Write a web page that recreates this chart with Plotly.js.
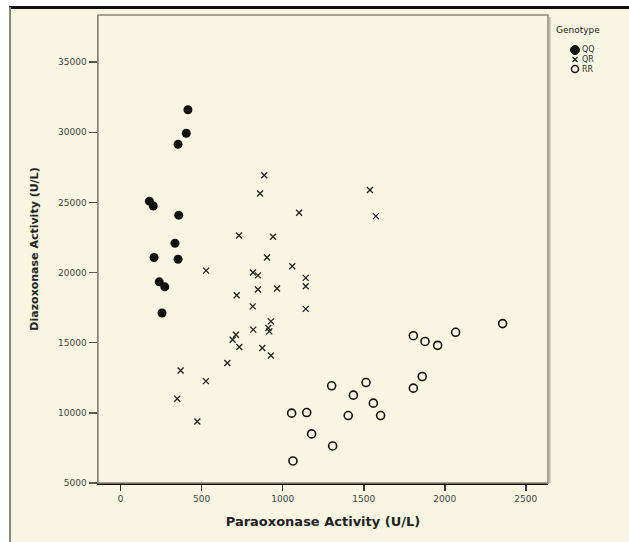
<!DOCTYPE html>
<html>
<head>
<meta charset="utf-8">
<script src="https://cdn.plot.ly/plotly-3.0.1.min.js"></script>
<style>html,body{margin:0;padding:0;background:#fff;}#chart{width:629px;height:542px;}</style>
</head>
<body>
<div id="chart"></div>
<script>
// Genotype QQ (filled circles)
const qqX = [415, 405, 354, 177, 201, 358, 335, 206, 354, 238, 272, 255];
const qqY = [31600, 29930, 29140, 25090, 24740, 24090, 22090, 21070, 20950, 19340, 18980, 17120];
// Genotype QR (crosses)
const qrX = [886, 860, 1101, 730, 940, 903, 1059, 527, 816, 847, 1142, 1142, 847, 965, 716, 815, 1142,
             927, 911, 917, 818, 711, 691, 732, 874, 927, 658, 370, 526, 349, 473, 1538, 1575];
const qrY = [26930, 25640, 24260, 22640, 22550, 21070, 20450, 20140, 20000, 19800, 19620, 19020, 18790, 18860, 18380, 17590, 17410,
             16520, 16050, 15810, 15930, 15570, 15210, 14690, 14620, 14090, 13550, 13020, 12260, 11000, 9380, 25880, 24020];
// Genotype RR (open circles)
const rrX = [2357, 2067, 1806, 1878, 1956, 1861, 1806, 1302, 1514, 1436, 1559, 1055, 1148, 1404, 1604, 1178, 1308, 1063];
const rrY = [16360, 15740, 15500, 15090, 14810, 12590, 11760, 11930, 12160, 11260, 10690, 9980, 10020, 9810, 9810, 8500, 7640, 6570];

const xTicks = [0, 500, 1000, 1500, 2000, 2500];
const xTickText = ['0', '500', '1000', '1500', '2000', '2500'];
const yTicks = [5000, 10000, 15000, 20000, 25000, 30000, 35000];
const yTickText = ['5000', '10000', '15000', '20000', '25000', '30000', '35000'];
const legendLabels = ['QQ', 'QR', 'RR'];

const W = 629, H = 542, L = 98, R = 81, T = 15, B = 59;
const pw = W - L - R, ph = H - T - B;
const px = v => (v - L) / pw;
const py = v => (H - B - v) / ph;
const FONT = 'DejaVu Sans, Liberation Sans, Arial, sans-serif';

const traces = [
  {x: qqX, y: qqY, type: 'scatter', mode: 'markers', name: 'QQ',
   marker: {symbol: 'circle', size: 9, color: '#111'}},
  {x: qrX, y: qrY, type: 'scatter', mode: 'markers', name: 'QR',
   marker: {symbol: 'x-thin', size: 6, line: {width: 1.3, color: '#222'}, color: '#222'}},
  {x: rrX, y: rrY, type: 'scatter', mode: 'markers', name: 'RR',
   marker: {symbol: 'circle-open', size: 8, color: '#111', line: {width: 1.6, color: '#111'}}}
];

const shapes = [
  {type: 'rect', xref: 'paper', yref: 'paper', x0: px(9), x1: px(629), y0: py(542), y1: py(7),
   fillcolor: '#F8F6E2', line: {width: 0}, layer: 'below'},
  {type: 'line', xref: 'paper', yref: 'paper', x0: px(9), x1: px(629), y0: py(7.5), y1: py(7.5),
   line: {color: '#111', width: 3}},
  {type: 'line', xref: 'paper', yref: 'paper', x0: px(10), x1: px(10), y0: py(542), y1: py(7),
   line: {color: '#8a8878', width: 2}},
  {type: 'rect', xref: 'paper', yref: 'paper', x0: 0, x1: 1, y0: 0, y1: 1,
   line: {color: '#8a8878', width: 1.5}},
  {type: 'line', xref: 'paper', yref: 'paper', x0: px(549.5), x1: px(549.5), y0: 0, y1: py(17),
   line: {color: '#b5b3a5', width: 2}}
];

const annotations = [
  {xref: 'paper', yref: 'paper', x: px(578), y: py(30), text: 'Genotype', showarrow: false,
   xanchor: 'center', yanchor: 'middle', font: {family: FONT, size: 9, color: '#222'}}
];
const legY = [50, 59.5, 69];
legendLabels.forEach((lab, i) => {
  annotations.push({xref: 'paper', yref: 'paper', x: px(580), y: py(legY[i]), text: lab, showarrow: false,
    xanchor: 'left', yanchor: 'middle', font: {family: FONT, size: 8, color: '#333'}});
});
shapes.push({type: 'circle', xref: 'paper', yref: 'paper', x0: px(570.5), x1: px(579.5), y0: py(legY[0] + 4.5), y1: py(legY[0] - 4.5),
  fillcolor: '#111', line: {color: '#111', width: 1}});
shapes.push({type: 'line', xref: 'paper', yref: 'paper', x0: px(572.5), x1: px(577.5), y0: py(legY[1] - 2.5), y1: py(legY[1] + 2.5),
  line: {color: '#222', width: 1.2}});
shapes.push({type: 'line', xref: 'paper', yref: 'paper', x0: px(572.5), x1: px(577.5), y0: py(legY[1] + 2.5), y1: py(legY[1] - 2.5),
  line: {color: '#222', width: 1.2}});
shapes.push({type: 'circle', xref: 'paper', yref: 'paper', x0: px(571.5), x1: px(578.5), y0: py(legY[2] + 3.5), y1: py(legY[2] - 3.5),
  line: {color: '#111', width: 1.5}});

const layout = {
  width: W, height: H,
  margin: {l: L, r: R, t: T, b: B, pad: 0},
  paper_bgcolor: '#ffffff',
  plot_bgcolor: '#F2EFD6',
  showlegend: false,
  font: {family: FONT, color: '#333'},
  xaxis: {
    range: [-140, 2637], tickvals: xTicks, ticktext: xTickText,
    ticks: 'outside', ticklen: 6, tickwidth: 1.5, tickcolor: '#333',
    showgrid: false, zeroline: false, showline: true, linecolor: '#111', linewidth: 2,
    tickfont: {size: 9, color: '#444', family: FONT},
    title: {text: 'Paraoxonase Activity (U/L)', standoff: 14,
            font: {size: 13, color: '#222', family: FONT, weight: 'bold'}},
    automargin: false
  },
  yaxis: {
    range: [5000, 38357], tickvals: yTicks, ticktext: yTickText,
    ticks: 'outside', ticklen: 8, tickwidth: 1.5, tickcolor: '#555',
    showgrid: false, zeroline: false, showline: true, linecolor: '#8a8878', linewidth: 1.5,
    tickfont: {size: 9, color: '#444', family: FONT},
    title: {text: 'Diazoxonase Activity (U/L)', standoff: 17,
            font: {size: 11, color: '#222', family: FONT, weight: 'bold'}},
    automargin: false
  },
  shapes: shapes,
  annotations: annotations
};

Plotly.newPlot('chart', traces, layout, {displayModeBar: false, staticPlot: true});
</script>
</body>
</html>
